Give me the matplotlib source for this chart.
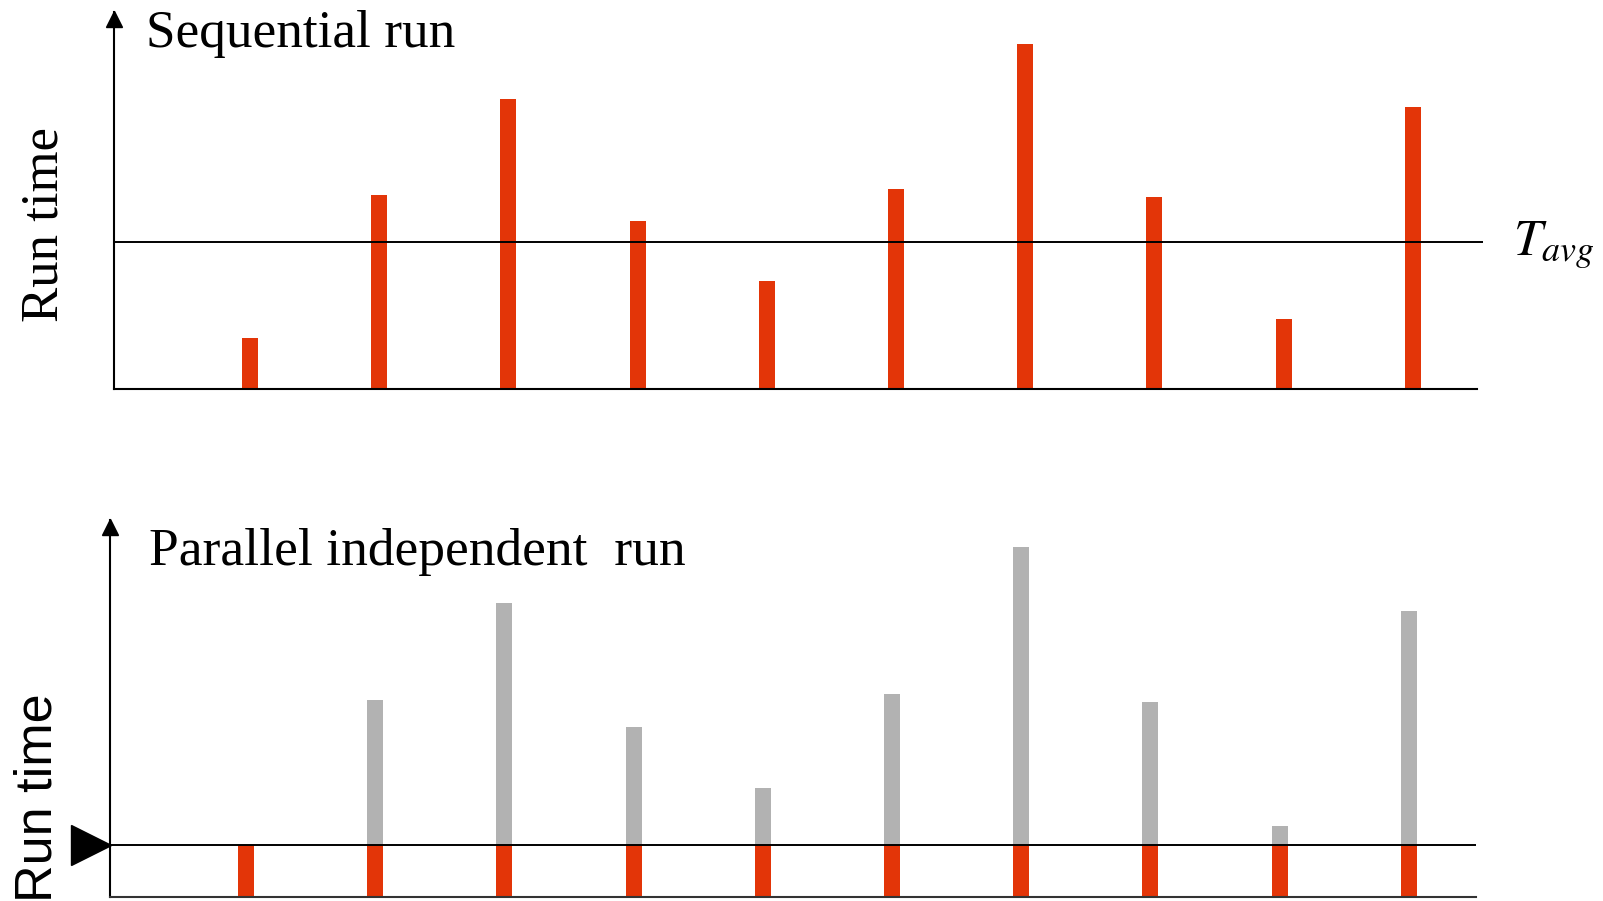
import matplotlib.pyplot as plt
from matplotlib.transforms import ScaledTranslation

W, H = 1603, 901

# ten independent runs, run time in arbitrary units
runs = list(range(10))
run_times = [51, 194, 290, 168, 108, 200, 345, 192, 70, 282]
t_avg = 147

seq_title = 'Sequential run'
par_title = 'Parallel independent  run'
y_label = 'Run time'

red = '#E33508'
gray = '#B2B2B2'

plt.rcParams['mathtext.fontset'] = 'stix'
serif = 'Liberation Serif'
sans = 'Liberation Sans'

fig = plt.figure(figsize=(W / 100, H / 100), dpi=100)


def px_box(left, top, right, bottom):
    return [left / W, 1 - bottom / H, (right - left) / W, (bottom - top) / H]


def fx(x):
    return x / W


def fy(y):
    return 1 - y / H


def clean(ax, xlo, xend):
    ax.set_xticks([])
    ax.set_yticks([])
    ax.spines['top'].set_visible(False)
    ax.spines['right'].set_visible(False)
    ax.spines['left'].set_linewidth(1.5)
    ax.spines['bottom'].set_linewidth(1.5)
    ax.spines['bottom'].set_bounds(xlo, xend)
    # arrow head on the y axis
    ytop = ax.get_ylim()[1]
    ax.plot([xlo], [ytop], marker='^', ms=11, color='black', clip_on=False,
            transform=ax.transData + ScaledTranslation(0, -7 / 100, fig.dpi_scale_trans))


# sequential run
ax1 = fig.add_axes(px_box(114, 12, 1483, 389))
ax1.set_xlim(-1.053, 9.543)
ax1.set_ylim(0, 377)
ax1.bar(runs, run_times, width=0.124, color=red, zorder=2)
ax1.axhline(t_avg, color='black', lw=1.4, zorder=3)
clean(ax1, -1.053, 9.497)

# parallel independent run: everyone stops when the fastest run finishes
t_min = min(run_times)
ax2 = fig.add_axes(px_box(110, 520, 1476, 897))
ax2.set_xlim(-1.053, 9.52)
ax2.set_ylim(0, 372)
ax2.bar(runs, [t - t_min for t in run_times], width=0.124, bottom=t_min, color=gray, zorder=2)
ax2.bar(runs, [t_min] * len(runs), width=0.124, color=red, zorder=2)
ax2.axhline(t_min, color='black', lw=1.4, zorder=3)
clean(ax2, -1.053, 9.52)
ax2.spines['bottom'].set_color('#333333')
ax2.plot([-1.053], [t_min], marker='>', ms=29, color='black', clip_on=False,
         transform=ax2.transData + ScaledTranslation(-19 / 100, 0, fig.dpi_scale_trans))

# texts
fig.text(fx(146), fy(47), seq_title, family=serif, fontsize=38.3, va='baseline', ha='left')
fig.text(fx(149), fy(565), par_title, family=serif, fontsize=38.5, va='baseline', ha='left')
fig.text(fx(58), fy(127), y_label, family=serif, fontsize=38, rotation=90,
         rotation_mode='anchor', ha='right', va='baseline')
fig.text(fx(52), fy(693), y_label, family=sans, fontsize=37.5, rotation=90,
         rotation_mode='anchor', ha='right', va='baseline')
fig.text(fx(1513), fy(255), r'$T_{avg}$', fontsize=37, va='baseline', ha='left')

fig.savefig('out.png', dpi=100)
